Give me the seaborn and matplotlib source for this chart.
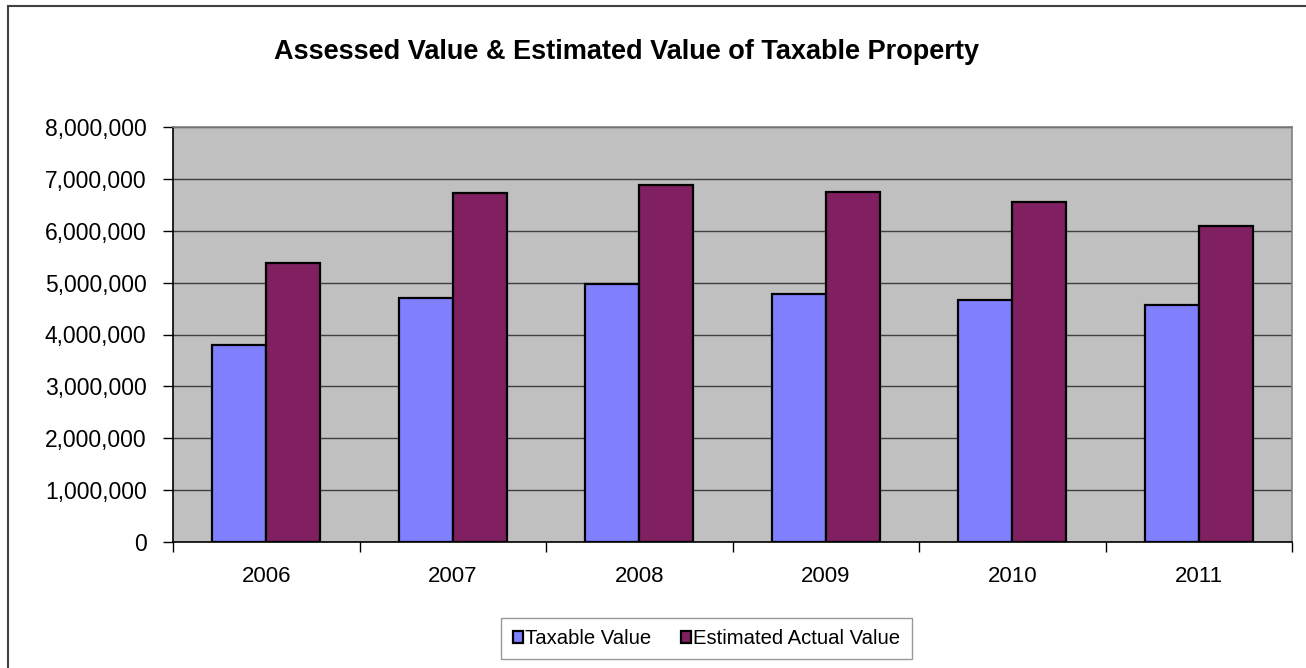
import matplotlib
matplotlib.use("Agg")
import matplotlib.pyplot as plt
import matplotlib.patches as mpatches
from matplotlib.ticker import FuncFormatter, FixedLocator
import seaborn as sns
import pandas as pd

years = ["2006", "2007", "2008", "2009", "2010", "2011"]
taxable_value = [3800000, 4700000, 4980000, 4780000, 4660000, 4570000]
estimated_actual_value = [5370000, 6730000, 6880000, 6750000, 6550000, 6100000]
series_names = ["Taxable Value", "Estimated Actual Value"]
colors = ["#8080FF", "#802060"]

df = pd.DataFrame({
    "Year": years * 2,
    "Value": taxable_value + estimated_actual_value,
    "Series": [series_names[0]] * len(years) + [series_names[1]] * len(years),
})

sns.set_style("white")
plt.rcParams["font.family"] = ["Liberation Sans", "DejaVu Sans"]
plt.rcParams["text.color"] = "black"
plt.rcParams["xtick.color"] = "black"
plt.rcParams["ytick.color"] = "black"

fig = plt.figure(figsize=(13.06, 6.68), dpi=100)
ax = fig.add_axes([173 / 1306, 1 - 542 / 668, (1292 - 173) / 1306, (542 - 127) / 668])
ax.set_facecolor("#C0C0C0")

sns.barplot(data=df, x="Year", y="Value", hue="Series", hue_order=series_names,
            palette=colors, width=0.58, edgecolor="black", linewidth=1.6,
            saturation=1, ax=ax, legend=True, zorder=3)

ax.set_ylim(0, 8000000)
ax.set_xlim(-0.5, len(years) - 0.5)
ax.set_yticks(range(0, 8000001, 1000000))
ax.yaxis.set_major_formatter(FuncFormatter(lambda v, p: f"{int(v):,}"))
ax.grid(axis="y", color="#404040", linewidth=1.0, zorder=1)
ax.set_axisbelow(True)
ax.set_xlabel("")
ax.set_ylabel("")

ax.tick_params(axis="y", which="major", direction="out", length=7, width=1,
               color="black", labelcolor="black", labelsize=16.5, pad=12, left=True)
ax.tick_params(axis="x", which="major", length=0, labelsize=16, labelcolor="black", pad=17)
ax.xaxis.set_minor_locator(FixedLocator([i - 0.5 for i in range(len(years) + 1)]))
ax.tick_params(axis="x", which="minor", direction="out", length=7, width=1,
               color="black", bottom=True)

for side in ["left", "bottom"]:
    ax.spines[side].set_color("black")
    ax.spines[side].set_linewidth(1.2)
for side in ["top", "right"]:
    ax.spines[side].set_visible(True)
    ax.spines[side].set_color("#808080")
    ax.spines[side].set_linewidth(1.2)

handles, labels = ax.get_legend_handles_labels()
ax.get_legend().remove()
leg = fig.legend(handles, labels, loc="center",
                 bbox_to_anchor=(706.5 / 1306, 1 - 638.5 / 668),
                 ncol=2, fontsize=14.6, frameon=True, fancybox=False,
                 edgecolor="#808080", handlelength=0.5, handleheight=0.5,
                 handletextpad=0.1, columnspacing=1.5, borderpad=0.55,
                 borderaxespad=0, labelcolor="black")
leg.get_frame().set_linewidth(1.0)
for h in leg.legend_handles:
    h.set_edgecolor("black")
    h.set_linewidth(1.6)

fig.text(627 / 1306, 1 - 52 / 668, "Assessed Value & Estimated Value of Taxable Property",
         ha="center", va="center", fontsize=19.5, fontweight="bold", color="black")

fig.patches.append(mpatches.Rectangle((8 / 1306, -0.1), 1.2, 1 - 6 / 668 + 0.1,
                                      transform=fig.transFigure, fill=False,
                                      edgecolor="#404040", linewidth=1.5))

fig.savefig("out.png", dpi=100)
